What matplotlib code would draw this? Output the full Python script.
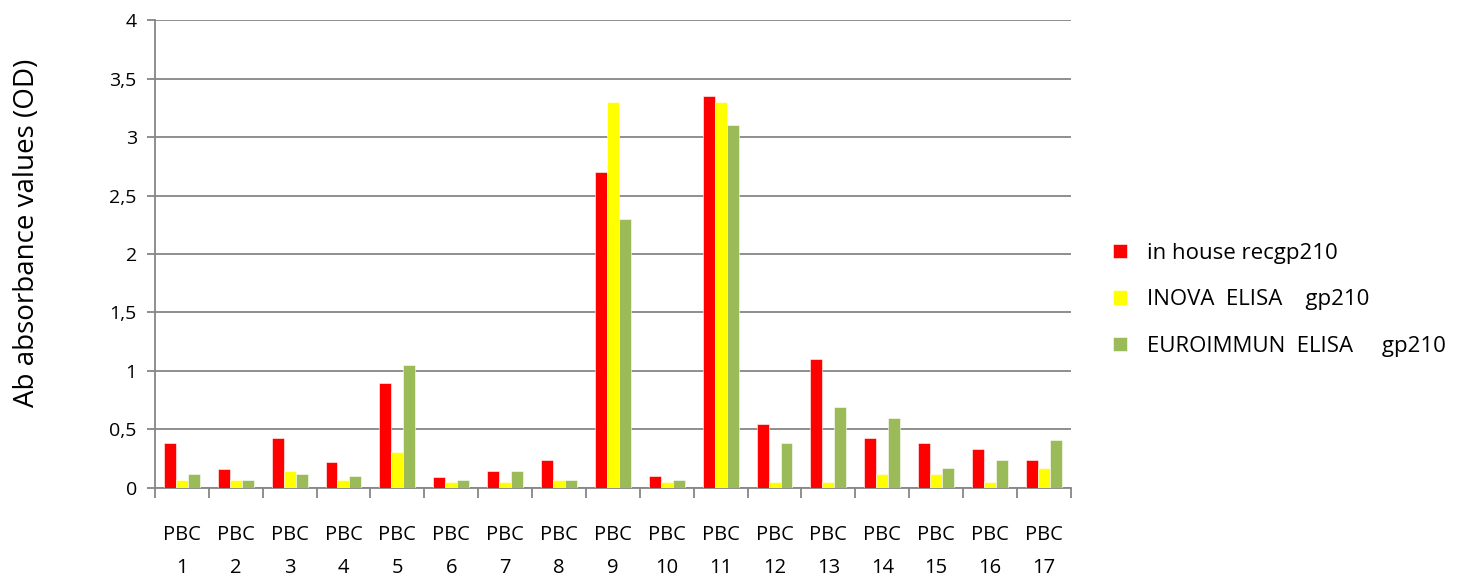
import matplotlib
matplotlib.use("Agg")
import matplotlib.pyplot as plt
import numpy as np
from matplotlib.ticker import FixedLocator, FuncFormatter

categories = [f"PBC\n{i}" for i in range(1, 18)]
in_house = [0.38, 0.16, 0.43, 0.22, 0.90, 0.09, 0.14, 0.24, 2.70, 0.10, 3.35, 0.55, 1.10, 0.43, 0.38, 0.33, 0.24]
inova = [0.07, 0.07, 0.14, 0.07, 0.31, 0.05, 0.05, 0.07, 3.30, 0.05, 3.30, 0.05, 0.05, 0.12, 0.12, 0.05, 0.17]
euroimmun = [0.12, 0.07, 0.12, 0.10, 1.05, 0.07, 0.14, 0.07, 2.30, 0.07, 3.10, 0.38, 0.69, 0.60, 0.17, 0.24, 0.41]
series_names = ["in house recgp210", "INOVA  ELISA    gp210", "EUROIMMUN  ELISA     gp210"]
colors = ["#FF0000", "#FFFF00", "#9BBB59"]

plt.rcParams['font.family'] = ['Open Sans', 'DejaVu Sans']

fig = plt.figure(figsize=(14.61, 5.78), dpi=100)
ax = fig.add_axes([0.106, 0.156, 0.627, 0.809])

x = np.arange(len(categories))
w = 0.222
for i, (vals, name, c) in enumerate(zip([in_house, inova, euroimmun], series_names, colors)):
    ax.bar(x + (i - 1) * w, vals, width=w, color=c, label=name, zorder=3,
           edgecolor="white", linewidth=0.4)

ax.set_xlim(-0.5, len(categories) - 0.5)
ax.set_ylim(0, 4)
ax.set_yticks(np.arange(0, 4.01, 0.5))
ax.yaxis.set_major_formatter(FuncFormatter(lambda v, p: (f"{v:g}").replace(".", ",")))
ax.yaxis.grid(True, color="#868686", linewidth=1.3, zorder=0)
ax.set_axisbelow(True)

ax.set_xticks(x)
ax.set_xticklabels(categories, fontsize=14.5, linespacing=1.85)
ax.xaxis.set_minor_locator(FixedLocator(np.arange(-0.5, len(categories), 1)))
ax.tick_params(axis="x", which="major", length=0, pad=27)
ax.tick_params(axis="x", which="minor", length=7, color="#868686", width=1.3)
ax.tick_params(axis="y", length=6, color="#868686", width=1.3, labelsize=14, pad=7)

for s in ["top", "right"]:
    ax.spines[s].set_visible(False)
for s in ["left", "bottom"]:
    ax.spines[s].set_color("#868686")
    ax.spines[s].set_linewidth(1.3)

ax.set_ylabel("Ab absorbance values (OD)", fontsize=20)
ax.yaxis.set_label_coords(-0.124, 0.545)

fig.legend(loc="center left", bbox_to_anchor=(0.7618, 0.481), frameon=False,
           fontsize=16, handlelength=0.62, handleheight=0.62, labelspacing=1.15,
           handletextpad=0.9, borderpad=0, borderaxespad=0)

fig.savefig("out.png", dpi=100)
